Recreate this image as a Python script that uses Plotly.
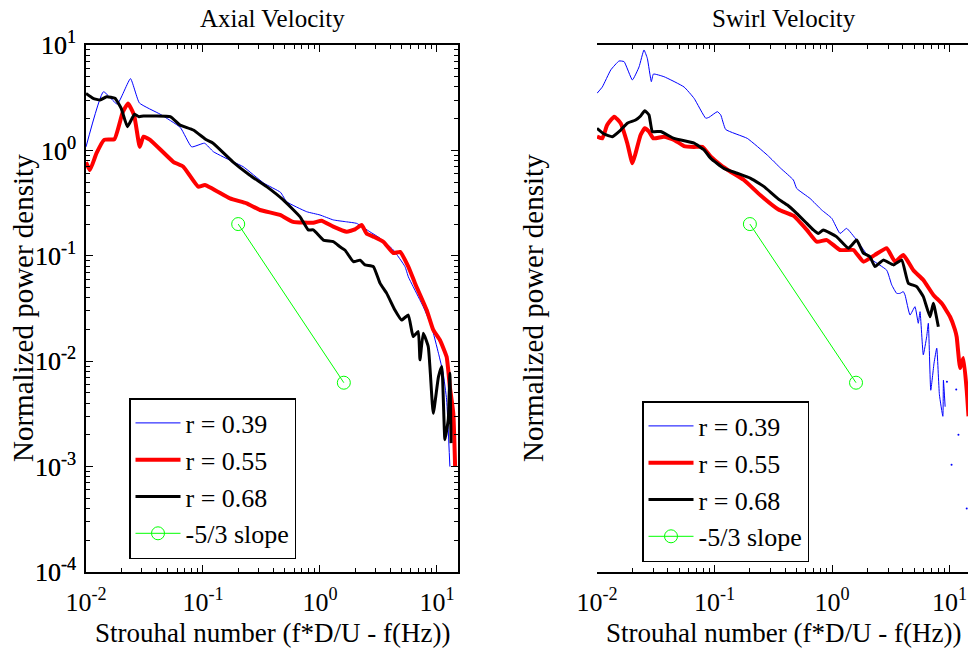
import plotly.graph_objects as go

# ---------------- data ----------------
# Axial velocity
ax_r39_x = [0.01, 0.0141, 0.0185, 0.0240, 0.0286, 0.0432, 0.0640, 0.0800, 0.103, 0.123, 0.185, 0.221, 0.332,
            0.46, 0.519, 0.77, 1.0, 1.3, 1.69, 2.06, 2.67, 3.26, 4.24, 5.33, 5.7, 6.26, 7.63, 9.0, 10.3, 11.3,
            12.1, 12.9]
ax_r39_y = [1.08, 3.6, 2.75, 4.8, 2.82, 2.2, 1.65, 1.08, 1.17, 0.97, 0.77, 0.70, 0.488,
            0.40, 0.326, 0.262, 0.244, 0.219, 0.21, 0.203, 0.169, 0.147, 0.1135, 0.079, 0.063, 0.051, 0.033,
            0.0212, 0.0119, 0.0077, 0.0043, 0.001]

ax_r55_x = [0.01, 0.0108, 0.0123, 0.0143, 0.0175, 0.0206, 0.0229, 0.0258, 0.0288, 0.031, 0.0353, 0.0557,
            0.0679, 0.091, 0.104, 0.17, 0.236, 0.307, 0.455, 0.59, 0.877, 1.03, 1.3, 1.69, 1.99, 2.27, 2.5,
            2.86, 3.48, 4.24, 4.83, 5.69, 6.49, 8.17, 9.3, 10.6, 12.1, 12.9, 13.8, 14.3]
ax_r55_y = [0.77, 0.65, 0.94, 1.26, 1.28, 2.3, 2.78, 2.15, 1.08, 1.35, 1.26, 0.78,
            0.70, 0.453, 0.47, 0.35, 0.315, 0.272, 0.244, 0.21, 0.206, 0.215, 0.189, 0.169, 0.178, 0.196, 0.163,
            0.152, 0.136, 0.106, 0.109, 0.079, 0.055, 0.0306, 0.0198, 0.0159, 0.011, 0.0057, 0.0032, 0.001]

ax_r68_x = [0.01, 0.0115, 0.0132, 0.015, 0.0177, 0.0200, 0.0226, 0.026, 0.0284, 0.031, 0.0525, 0.0635,
            0.0826, 0.107, 0.122, 0.18, 0.25, 0.35, 0.485, 0.674, 0.794, 0.877, 1.07, 1.3, 1.48, 1.64, 1.93,
            2.2, 2.43, 2.86, 3.26, 3.72, 4.37, 4.99, 5.69, 6.26, 6.92, 7.16, 7.64, 8.43, 9.3, 10.3, 11.0,
            11.7, 12.5, 12.9, 13.2]
ax_r68_y = [3.47, 3.12, 3.0, 3.23, 3.12, 2.5, 1.68, 2.2, 2.09, 2.12, 2.09, 1.74,
            1.56, 1.26, 1.17, 0.78, 0.585, 0.453, 0.339, 0.235, 0.176, 0.176, 0.141, 0.136, 0.122, 0.113, 0.088,
            0.091, 0.082, 0.079, 0.055, 0.044, 0.0306, 0.0246, 0.0274, 0.0171, 0.0191, 0.0103, 0.0184, 0.0137,
            0.0032, 0.0071, 0.0089, 0.0018, 0.0028, 0.0077, 0.00167]

# Swirl velocity
sw_r39_x = [0.01, 0.0111, 0.0131, 0.0154, 0.017, 0.02, 0.0228, 0.0251, 0.0268, 0.029, 0.0302, 0.0372, 0.055,
            0.067, 0.0842, 0.0898, 0.1057, 0.113, 0.1245, 0.19, 0.282, 0.366, 0.469, 0.5, 0.65, 0.817, 0.994,
            1.17, 1.33, 1.62, 2.1, 2.92, 3.22, 3.55, 3.79, 4.04, 4.18, 4.61, 5.08, 5.42, 5.61, 5.98, 6.39,
            6.6, 6.92, 7.38, 7.78, 8.2, 8.77, 8.87, 9.17]
sw_r39_y = [3.48, 4.0, 5.8, 7.05, 6.95, 4.66, 6.2, 8.97, 7.48, 4.49, 5.3, 5.0, 4.0,
            3.12, 2.02, 2.06, 2.33, 2.17, 1.58, 1.30, 0.90, 0.676, 0.524, 0.436, 0.35, 0.272, 0.227,
            0.163, 0.182, 0.141, 0.0946, 0.073, 0.053, 0.044, 0.044, 0.0457, 0.0425, 0.0274, 0.0329, 0.0229,
            0.0295, 0.0115, 0.0171, 0.0229, 0.0053, 0.0096, 0.0133, 0.0048, 0.003, 0.0066, 0.0037]
sw_r39_dots_x = [9.5, 10.4, 11.4, 11.9, 14.0]
sw_r39_dots_y = [0.0064, 0.00104, 0.0054, 0.002, 0.0004]

sw_r55_x = [0.01, 0.0111, 0.0122, 0.014, 0.0159, 0.0181, 0.02, 0.0213, 0.0235, 0.0255, 0.0277, 0.0302,
            0.0372, 0.0452, 0.055, 0.067, 0.0788, 0.093, 0.113, 0.137, 0.178, 0.246, 0.35, 0.469, 0.61,
            0.741, 0.902, 1.17, 1.52, 1.85, 2.32, 2.92, 3.43, 4.04, 4.92, 5.98, 7.28, 8.57, 10.1, 11.1,
            11.5, 12.3, 13.1, 14.0, 14.5]
sw_r55_y = [1.35, 1.30, 1.74, 2.09, 1.81, 1.17, 0.755, 0.94, 1.40, 1.62, 1.51, 1.30,
            1.35, 1.26, 1.10, 1.08, 1.08, 0.87, 0.726, 0.628, 0.524, 0.375, 0.275, 0.24, 0.176,
            0.136, 0.141, 0.1135, 0.1135, 0.088, 0.102, 0.118, 0.088, 0.102, 0.073, 0.059, 0.0425, 0.0354,
            0.0264, 0.02, 0.017, 0.0086, 0.0107, 0.0053, 0.003]

sw_r68_x = [0.01, 0.0115, 0.0135, 0.0159, 0.0181, 0.0213, 0.0235, 0.0255, 0.0277, 0.0296, 0.0348, 0.0452,
            0.067, 0.0815, 0.093, 0.12, 0.156, 0.203, 0.244, 0.264, 0.35, 0.417, 0.5, 0.61, 0.694, 0.764,
            0.843, 1.09, 1.38, 1.62, 1.85, 2.1, 2.32, 2.73, 3.33, 3.92, 4.46, 5.25, 5.98, 6.82, 7.28, 8.03]
sw_r68_y = [1.62, 1.43, 1.35, 1.56, 1.81, 1.94, 2.12, 2.38, 2.17, 1.51, 1.51, 1.30,
            1.17, 1.01, 0.84, 0.676, 0.607, 0.543, 0.48, 0.453, 0.345, 0.303, 0.253, 0.203, 0.176, 0.163,
            0.176, 0.152, 0.118, 0.141, 0.106, 0.098, 0.079, 0.091, 0.082, 0.091, 0.055, 0.051, 0.041,
            0.0264, 0.0354, 0.0212]

slope_x = [0.2, 1.6]
slope_y = [0.2, 0.00625]

series_names = ["r = 0.39", "r = 0.55", "r = 0.68", "-5/3 slope"]
titles = ["Axial Velocity", "Swirl Velocity"]
xlabel = "Strouhal number (f*D/U - f(Hz))"
ylabel = "Normalized power density"
xtick_vals = [0.01, 0.1, 1, 10]
xtick_text = ["10<sup>-2</sup>", "10<sup>-1</sup>", "10<sup>0</sup>", "10<sup>1</sup>"]
ytick_vals = [1e-4, 1e-3, 1e-2, 1e-1, 1, 10]
ytick_text = ["10<sup>-4</sup>", "10<sup>-3</sup>", "10<sup>-2</sup>", "10<sup>-1</sup>",
              "10<sup>0</sup>", "10<sup>1</sup>"]

# ---------------- figure ----------------
W, H = 968, 652
FONT = "Liberation Serif"
fig = go.Figure()

def add_panel(xa, ya, leg, b_x, b_y, r_x, r_y, k_x, k_y):
    fig.add_trace(go.Scatter(x=b_x, y=b_y, mode="lines", name=series_names[0], legend=leg,
                             line=dict(color="#0000FF", width=1, shape="spline", smoothing=0.4),
                             xaxis=xa, yaxis=ya))
    fig.add_trace(go.Scatter(x=r_x, y=r_y, mode="lines", name=series_names[1], legend=leg,
                             line=dict(color="#FF0000", width=4, shape="spline", smoothing=0.4),
                             xaxis=xa, yaxis=ya))
    fig.add_trace(go.Scatter(x=k_x, y=k_y, mode="lines", name=series_names[2], legend=leg,
                             line=dict(color="#000000", width=3, shape="spline", smoothing=0.4),
                             xaxis=xa, yaxis=ya))
    fig.add_trace(go.Scatter(x=slope_x, y=slope_y, mode="lines+markers", name=series_names[3], legend=leg,
                             line=dict(color="#00FF00", width=1),
                             marker=dict(symbol="circle-open", size=13, color="#00FF00",
                                         line=dict(width=1, color="#00FF00")),
                             xaxis=xa, yaxis=ya))

add_panel("x", "y", "legend", ax_r39_x, ax_r39_y, ax_r55_x, ax_r55_y, ax_r68_x, ax_r68_y)
add_panel("x2", "y2", "legend2", sw_r39_x, sw_r39_y, sw_r55_x, sw_r55_y, sw_r68_x, sw_r68_y)
fig.add_trace(go.Scatter(x=sw_r39_dots_x, y=sw_r39_dots_y, mode="markers", showlegend=False,
                         marker=dict(color="#0000FF", size=2), xaxis="x2", yaxis="y2"))

xminor = [k * 10.0 ** e for e in range(-2, 2) for k in range(2, 10)]
yminor = [k * 10.0 ** e for e in range(-4, 1) for k in range(2, 10)]

def axis(domain, rng, tv, tt, minor_vals, standoff):
    return dict(type="log", domain=domain, range=rng, tickmode="array", tickvals=tv, ticktext=tt,
                ticks="inside", ticklen=7, tickwidth=1, tickcolor="black",
                showline=True, linecolor="black", linewidth=1.5, mirror="ticks",
                showgrid=False, zeroline=False, automargin=False, ticklabelstandoff=standoff,
                tickfont=dict(family=FONT, size=26, color="black"),
                minor=dict(tickvals=minor_vals, ticks="inside", ticklen=4, tickcolor="black",
                           tickwidth=1, showgrid=False))

top, bot = 45, 572
ydom = [1 - bot / H, 1 - top / H]
L1, R1 = 86, 458
L2 = 597
legfont = dict(family=FONT, size=26, color="black")
fig.update_layout(
    width=W, height=H, autosize=False,
    margin=dict(l=0, r=0, t=0, b=0, pad=0, autoexpand=False),
    paper_bgcolor="white", plot_bgcolor="white",
    font=dict(family=FONT, color="black"),
    xaxis=axis([L1 / W, R1 / W], [-2, 1.18], xtick_vals, xtick_text, xminor, 6),
    yaxis=axis(ydom, [-4, 1], ytick_vals, ytick_text, yminor, 3),
    xaxis2=axis([L2 / W, 1.0], [-2, 1.157], xtick_vals, xtick_text, xminor, 6),
    yaxis2=axis(ydom, [-4, 1], ytick_vals, ytick_text, yminor, 3),
    legend=dict(x=129 / W, y=1 - 398 / H, xanchor="left", yanchor="top", itemwidth=45,
                bgcolor="white", bordercolor="black", borderwidth=1.5, font=legfont),
    legend2=dict(x=642 / W, y=1 - 401 / H, xanchor="left", yanchor="top", itemwidth=45,
                 bgcolor="white", bordercolor="black", borderwidth=1.5, font=legfont),
    showlegend=True,
)

annos = []
for cx, t in [((L1 + R1) / 2, titles[0]), ((L2 + 970) / 2, titles[1])]:
    annos.append(dict(x=cx / W, y=1 - 19 / H, xref="paper", yref="paper", text=t, showarrow=False,
                      xanchor="center", yanchor="middle", font=dict(family=FONT, size=25, color="black")))
for cx in [(L1 + R1) / 2, (L2 + 970) / 2]:
    annos.append(dict(x=cx / W, y=1 - 633 / H, xref="paper", yref="paper", text=xlabel, showarrow=False,
                      xanchor="center", yanchor="middle", font=dict(family=FONT, size=27, color="black")))
for cx in [23, 533]:
    annos.append(dict(x=cx / W, y=1 - 308 / H, xref="paper", yref="paper", text=ylabel, showarrow=False,
                      textangle=-90, xanchor="center", yanchor="middle",
                      font=dict(family=FONT, size=29, color="black")))
fig.update_layout(annotations=annos)

fig.write_html("out.html")
